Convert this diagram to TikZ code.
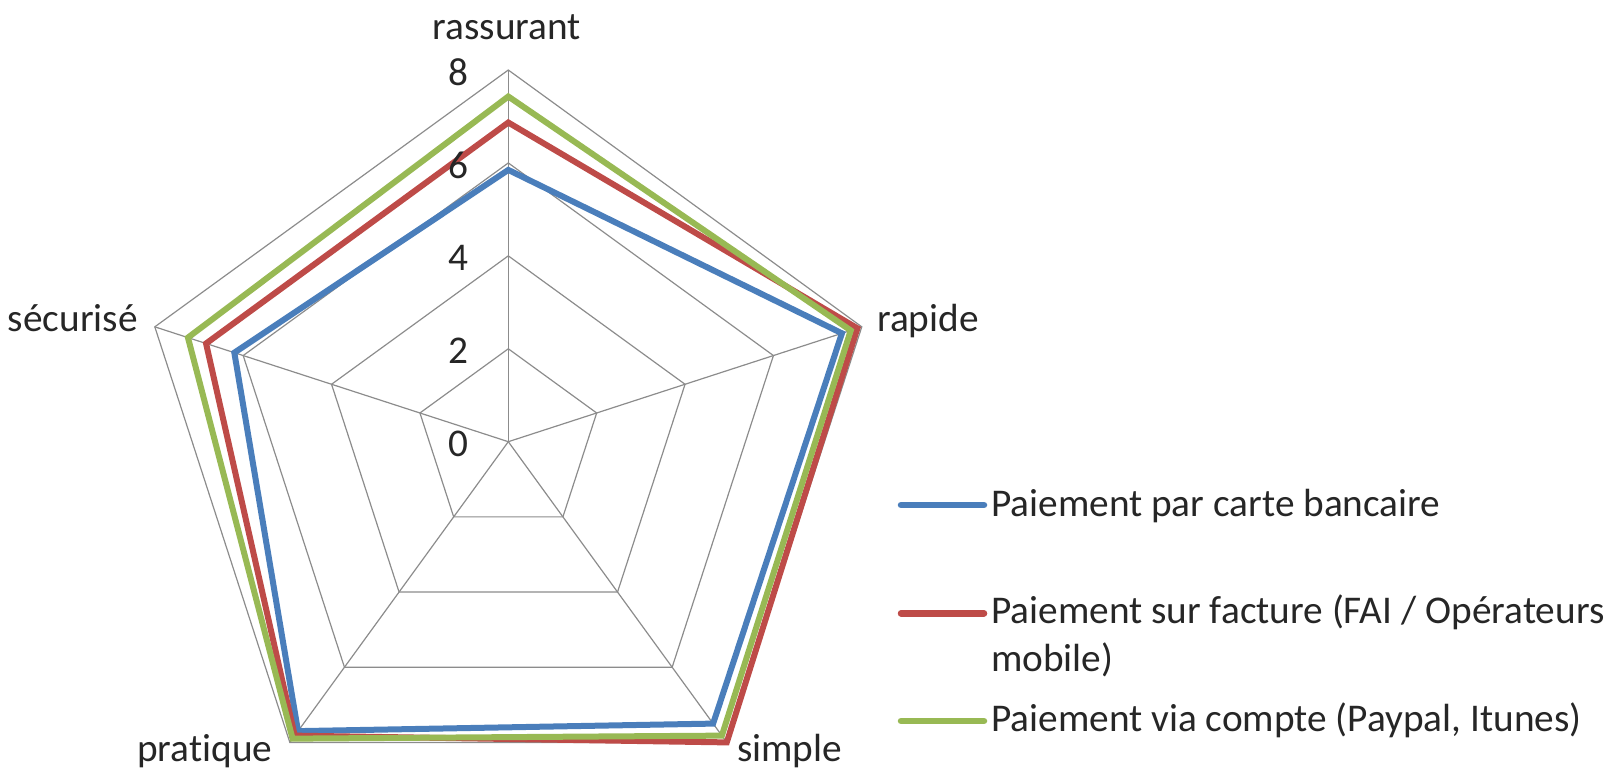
\documentclass[tikz,border=0pt]{standalone}
\usepackage{fontspec}
\setmainfont{Carlito}[Ligatures=NoCommon]
\usetikzlibrary{calc}
\definecolor{sblue}{HTML}{4A7EBB}
\definecolor{sred}{HTML}{BE4B48}
\definecolor{sgreen}{HTML}{98B954}
\definecolor{gridgray}{HTML}{8C8C8C}
\begin{document}
\begin{tikzpicture}[x=1pt,y=1pt,
  lbl/.style={font=\fontsize{39.3}{48}\selectfont, inner sep=0pt, text=black!85},
  gridline/.style={draw=gridgray, line width=1.2pt},
  serie/.style={line width=6pt, line join=miter},
  legline/.style={line width=6.5pt, line cap=round}]
\useasboundingbox (0,0) rectangle (1613,772);
\coordinate (C) at (508.3,330.3);
\def\u{46.46}
\begin{scope}[shift={(C)}]
  % grid pentagons
  \foreach \lev in {2,4,6,8}
    \draw[gridline] (90:{\lev*\u}) -- (18:{\lev*\u}) -- (-54:{\lev*\u}) -- (-126:{\lev*\u}) -- (162:{\lev*\u}) -- cycle;
  % axes
  \coordinate (aR) at (90:{8*\u});
  \coordinate (aP) at (18:{8*\u});
  \coordinate (aS) at (-54:{8*\u});
  \coordinate (aT) at (-126:{8*\u});
  \coordinate (aE) at (162:{8*\u});
  \coordinate (O) at (0,0);
  \foreach \e in {aR,aP,aS,aT,aE}
    \draw[gridline] (O) -- (\e);
  % series
  \draw[serie, sblue] (90:{5.85*\u}) -- (18:{7.55*\u}) -- (-54:{7.5*\u}) -- (-126:{7.7*\u}) -- (162:{6.2*\u}) -- cycle;
  \draw[serie, sred] (90:{6.87*\u}) -- (18:{7.9*\u}) -- (-54:{8.0*\u}) -- (-126:{7.82*\u}) -- (162:{6.84*\u}) -- cycle;
  \draw[serie, sgreen] (90:{7.43*\u}) -- (18:{7.75*\u}) -- (-54:{7.82*\u}) -- (-126:{7.9*\u}) -- (162:{7.25*\u}) -- cycle;
  % scale labels
  \foreach \lev in {0,2,4,6,8}
    \node[lbl, anchor=east] (v\lev) at (-40,{\lev*\u-2}) {\lev};
\end{scope}
% axis labels
\node[lbl, anchor=base] (lRass) at (507,732) {rassurant};
\node[lbl, anchor=base west] (lRap) at (877,440) {rapide};
\node[lbl, anchor=base east] (lSec) at (138,440) {sécurisé};
\node[lbl, anchor=base west] (lPra) at (137,10.3) {pratique};
\node[lbl, anchor=base west] (lSim) at (737,10.3) {simple};
% legend
\coordinate (b1) at (901,267); \coordinate (b2) at (984,267);
\coordinate (r1) at (901,158.7); \coordinate (r2) at (984,158.7);
\coordinate (g1) at (901,51); \coordinate (g2) at (984,51);
\draw[legline, sblue] (b1) -- (b2);
\draw[legline, sred] (r1) -- (r2);
\draw[legline, sgreen] (g1) -- (g2);
\node[lbl, anchor=base west] (tB) at (991,255.3) {Paiement par carte bancaire};
\node[lbl, anchor=base west] (tR) at (991,149) {Paiement sur facture (FAI / Opérateurs};
\node[lbl, anchor=base west] (tR2) at (991,101) {mobile)};
\node[lbl, anchor=base west] (tG) at (991,40.3) {Paiement via compte (Paypal, Itunes)};
\end{tikzpicture}
\end{document}
